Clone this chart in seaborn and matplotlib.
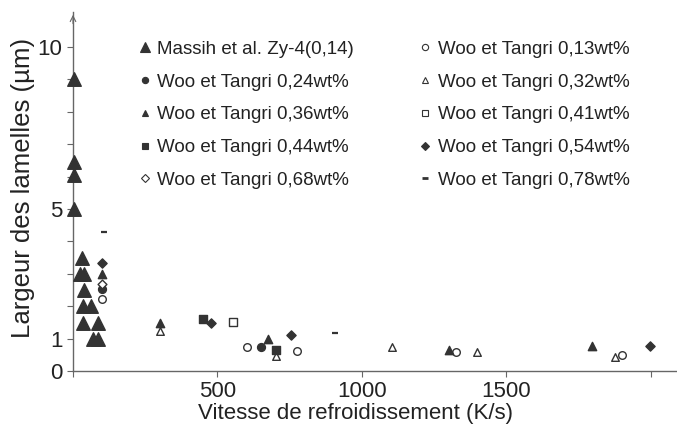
import matplotlib
matplotlib.use("Agg")
import matplotlib.pyplot as plt
from matplotlib.lines import Line2D
import seaborn as sns
import pandas as pd

sns.set_theme(style="ticks")
plt.rcParams["font.family"] = ["Liberation Sans", "DejaVu Sans"]

# Cooling rate (K/s) and lamella width (µm) for each data set
massih_x = [5, 5, 5, 5, 30, 24, 38, 38, 36, 61, 33, 88, 70, 86]
massih_y = [9.0, 6.45, 6.05, 5.0, 3.48, 3.0, 3.0, 2.5, 2.0, 2.0, 1.47, 1.47, 1.0, 1.0]

w013_x = [100, 603, 776, 1326, 1900]
w013_y = [2.23, 0.75, 0.62, 0.60, 0.49]

w024_x = [100, 652]
w024_y = [2.52, 0.75]

w032_x = [300, 704, 1103, 1399, 1874]
w032_y = [1.23, 0.46, 0.73, 0.60, 0.42]

w036_x = [100, 300, 675, 1301, 1796]
w036_y = [2.98, 1.49, 0.99, 0.65, 0.78]

w041_x = [552]
w041_y = [1.50]

w044_x = [450, 704]
w044_y = [1.60, 0.65]

w054_x = [100, 479, 754, 1998]
w054_y = [3.32, 1.49, 1.11, 0.78]

w068_x = [100]
w068_y = [2.70]

w078_x = [108, 907]
w078_y = [4.30, 1.16]

labels = [
    "Massih et al. Zy-4(0,14)", "Woo et Tangri 0,13wt%",
    "Woo et Tangri 0,24wt%", "Woo et Tangri 0,32wt%",
    "Woo et Tangri 0,36wt%", "Woo et Tangri 0,41wt%",
    "Woo et Tangri 0,44wt%", "Woo et Tangri 0,54wt%",
    "Woo et Tangri 0,68wt%", "Woo et Tangri 0,78wt%",
]

y_ticks = list(range(0, 11))
y_ticklabels = ["0", "1", "", "", "", "5", "", "", "", "", "10"]
x_ticks = [0, 500, 1000, 1500, 2000]
x_ticklabels = ["", "500", "1000", "1500", ""]

dark = "#333333"
axis_col = "#666666"
text_col = "#222222"

# (x, y, label, marker, size, filled)
series = [
    (massih_x, massih_y, labels[0], "^", 95, True),
    (w013_x, w013_y, labels[1], "o", 30, False),
    (w024_x, w024_y, labels[2], "o", 32, True),
    (w032_x, w032_y, labels[3], "^", 30, False),
    (w036_x, w036_y, labels[4], "^", 36, True),
    (w041_x, w041_y, labels[5], "s", 34, False),
    (w044_x, w044_y, labels[6], "s", 36, True),
    (w054_x, w054_y, labels[7], "D", 22, True),
    (w068_x, w068_y, labels[8], "D", 20, False),
    (w078_x, w078_y, labels[9], "_", 18, True),
]

fig = plt.figure(figsize=(6.77, 4.37), dpi=100)
ax = fig.add_axes([73 / 677, 66 / 437, 604 / 677, 359 / 437])

for xs, ys, lab, mk, s, filled in series:
    df = pd.DataFrame({"x": xs, "y": ys})
    if mk == "_":
        sns.scatterplot(data=df, x="x", y="y", marker=mk, s=s, color=dark,
                        linewidth=1.6, ax=ax, legend=False, zorder=3)
    else:
        sns.scatterplot(data=df, x="x", y="y", marker=mk, s=s,
                        color=dark if filled else "white",
                        edgecolor=dark, linewidth=1.0, ax=ax,
                        legend=False, zorder=3, clip_on=False)

ax.set_xlim(0, 2090)
ax.set_ylim(0, 11.08)
ax.set_xticks(x_ticks)
ax.set_xticklabels(x_ticklabels)
ax.set_yticks(y_ticks)
ax.set_yticklabels(y_ticklabels)
ax.tick_params(axis="both", labelsize=16, colors=axis_col, labelcolor=text_col,
               length=4, width=0.8)
ax.tick_params(axis="x", pad=3)

for side in ("top", "right"):
    ax.spines[side].set_visible(False)
for side in ("left", "bottom"):
    ax.spines[side].set_color(axis_col)
    ax.spines[side].set_linewidth(1.0)

# Arrow head at the top of the y axis
ax.annotate("", xy=(0, 1.0), xytext=(0, 0.96), xycoords="axes fraction",
            arrowprops=dict(arrowstyle="->", color=axis_col, lw=0.8,
                            mutation_scale=10))

ax.set_xlabel("Vitesse de refroidissement (K/s)", fontsize=16, color=text_col)
ax.xaxis.set_label_coords(0.467, -0.09)
ax.set_ylabel("Largeur des lamelles (µm)", fontsize=18.5, color=text_col)
ax.yaxis.set_label_coords(-0.063, 0.51)

# Legend: left column first, then right column
order = [0, 2, 4, 6, 8, 1, 3, 5, 7, 9]
handles = []
for i in order:
    xs, ys, lab, mk, s, filled = series[i]
    if mk == "_":
        h = Line2D([], [], linestyle="none", marker="_", markersize=4,
                   markeredgewidth=2, color=dark, label=lab)
    else:
        ms = 7.5 if i == 0 else 4.5
        h = Line2D([], [], linestyle="none", marker=mk, markersize=ms,
                   markerfacecolor=dark if filled else "white",
                   markeredgecolor=dark, markeredgewidth=0.8, label=lab)
    handles.append(h)

fig.legend(handles=handles, loc="upper left", bbox_to_anchor=(0.18, 0.945),
           ncol=2, frameon=False, fontsize=13.5, labelspacing=0.83,
           handlelength=0.7, handletextpad=0.3, columnspacing=3.45,
           labelcolor=text_col)

fig.savefig("out.png", dpi=100)
